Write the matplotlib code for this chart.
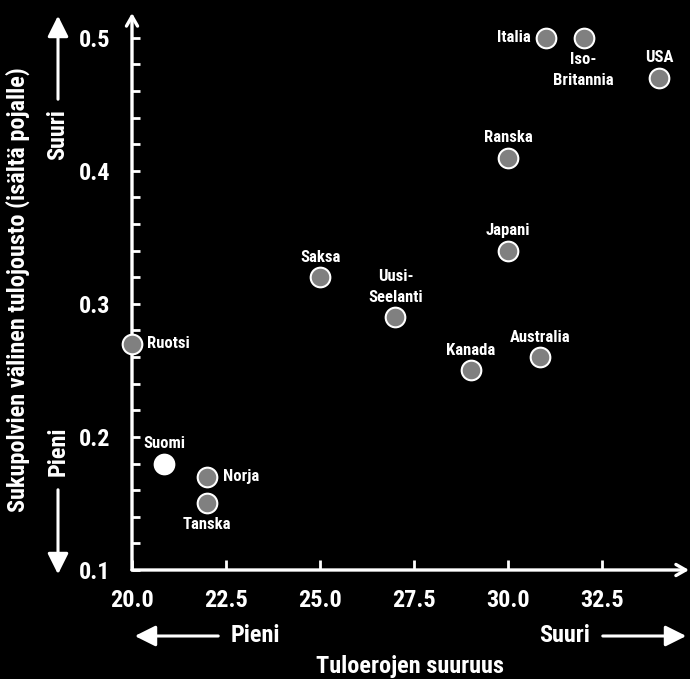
import matplotlib
matplotlib.use("Agg")
import matplotlib.pyplot as plt
import matplotlib.patches as mpatches
from matplotlib.ticker import MultipleLocator

countries = ["Italia", "Iso-\nBritannia", "USA", "Ranska", "Japani", "Saksa",
             "Uusi-\nSeelanti", "Ruotsi", "Australia", "Kanada", "Suomi", "Norja", "Tanska"]
inequality = [31.0, 32.0, 34.0, 30.0, 30.0, 25.0, 27.0, 20.0, 30.85, 29.0, 20.85, 22.0, 22.0]
elasticity = [0.50, 0.50, 0.47, 0.41, 0.34, 0.32, 0.29, 0.27, 0.26, 0.25, 0.18, 0.17, 0.15]
label_pos = ["left", "below", "above", "above", "above", "above",
             "above", "right", "above", "above", "above", "right", "below"]
highlight = "Suomi"

x_ticks = [20.0, 22.5, 25.0, 27.5, 30.0, 32.5]
y_ticks = [0.1, 0.2, 0.3, 0.4, 0.5]

FONT = ["Roboto Condensed", "DejaVu Sans"]
plt.rcParams['font.family'] = FONT
plt.rcParams['font.weight'] = "bold"
BIG = 17.5
SMALL = 12

fig = plt.figure(figsize=(6.9, 6.79), dpi=100, facecolor="black")
W, H = 690, 679
x0, x1, ytop, ybot = 132, 689, 13, 570
ax = fig.add_axes([x0 / W, (H - ybot) / H, (x1 - x0) / W, (ybot - ytop) / H])
ax.set_facecolor("black")
ax.set_xlim(20, 34.8)
ax.set_ylim(0.1, 0.5186)

for s in ax.spines.values():
    s.set_visible(False)

# axes with open arrowheads
for end in [(1, 0), (0, 1)]:
    ax.annotate("", xy=end, xytext=(0, 0), xycoords="axes fraction",
                arrowprops=dict(arrowstyle="->,head_length=0.7,head_width=0.4", color="white",
                                lw=2.4, shrinkA=0, shrinkB=0), annotation_clip=False)

ax.set_xticks(x_ticks)
ax.set_xticklabels([f"{v:.1f}" for v in x_ticks])
ax.set_yticks(y_ticks)
ax.set_yticklabels([f"{v:.1f}" for v in y_ticks])
ax.yaxis.set_minor_locator(MultipleLocator(0.02))
ax.tick_params(axis="both", which="both", direction="in", colors="white", width=2,
               labelsize=BIG, labelcolor="white")
ax.tick_params(axis="x", which="major", length=7, pad=14)
ax.tick_params(axis="y", which="major", length=6, pad=38)
ax.tick_params(axis="y", which="minor", length=6)
ax.tick_params(axis="x", which="minor", length=0)
for lab in ax.get_yticklabels():
    lab.set_horizontalalignment("left")

for name, xv, yv, pos in zip(countries, inequality, elasticity, label_pos):
    fc = "white" if name == highlight else "#808080"
    ax.scatter([xv], [yv], s=200, facecolor=fc, edgecolor="white", linewidth=1.5,
               zorder=5, clip_on=False)
    if pos == "left":
        off, ha, va = (-11, 0), "right", "center"
    elif pos == "right":
        off, ha, va = (11, 0), "left", "center"
    elif pos == "above":
        off, ha, va = (0, 9), "center", "bottom"
    else:
        off, ha, va = (0, -10), "center", "top"
    ax.annotate(name, (xv, yv), xytext=off, textcoords="offset points",
                ha=ha, va=va, color="white", fontsize=SMALL,
                linespacing=1.5, zorder=6)

# side arrows with filled heads
def farrow(xa, ya, xb, yb):
    fig.add_artist(mpatches.FancyArrowPatch(
        (xa / W, 1 - ya / H), (xb / W, 1 - yb / H), transform=fig.transFigure,
        arrowstyle="-|>,head_length=0.9,head_width=0.45", color="white", lw=2.2,
        mutation_scale=14))

farrow(58, 102, 58, 13)
farrow(58, 487, 58, 577)
fig.text(58 / W, 1 - 135 / H, "Suuri", rotation=90, ha="center", va="center",
         color="white", fontsize=BIG)
fig.text(58 / W, 1 - 451 / H, "Pieni", rotation=90, ha="center", va="center",
         color="white", fontsize=BIG)
fig.text(18 / W, 1 - 290 / H, "Sukupolvien välinen tulojousto (isältä pojalle)",
         rotation=90, ha="center", va="center", color="white", fontsize=BIG)

farrow(221, 636, 132, 636)
farrow(600, 636, 689, 636)
fig.text(255 / W, 1 - 636 / H, "Pieni", ha="center", va="center",
         color="white", fontsize=BIG)
fig.text(565 / W, 1 - 636 / H, "Suuri", ha="center", va="center",
         color="white", fontsize=BIG)
fig.text(410 / W, 1 - 666 / H, "Tuloerojen suuruus", ha="center", va="center",
         color="white", fontsize=BIG)

fig.savefig("out.png", dpi=100, facecolor="black")
